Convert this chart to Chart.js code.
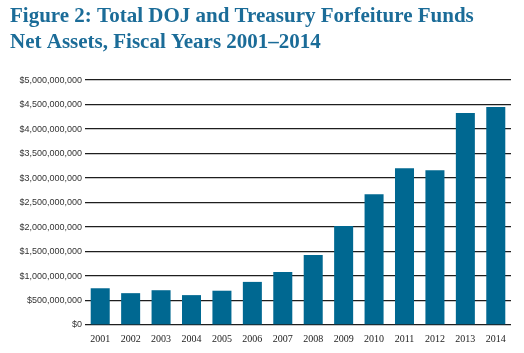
<!DOCTYPE html>
<html>
<head>
<meta charset="utf-8">
<script src="https://cdn.jsdelivr.net/npm/chart.js"></script>
<style>
  body { margin: 0; background: #fff; }
</style>
</head>
<body>
<canvas id="grafico" width="524" height="353"></canvas>
<script>
  // dados do gráfico
  var anos = ['2001', '2002', '2003', '2004', '2005', '2006', '2007',
              '2008', '2009', '2010', '2011', '2012', '2013', '2014'];
  var ativos = [750000000, 650000000, 710000000, 610000000, 700000000, 880000000, 1080000000,
                1430000000, 2020000000, 2670000000, 3200000000, 3160000000, 4330000000, 4450000000];
  var titulo = ['Figure 2: Total DOJ and Treasury Forfeiture Funds',
                'Net Assets, Fiscal Years 2001\u20132014'];

  var ctx = document.getElementById('grafico').getContext('2d');
  var grafico = new Chart(ctx, {
    type: 'bar',
    data: {
      labels: anos,
      datasets: [{
        data: ativos,
        backgroundColor: '#006891',
        categoryPercentage: 1,
        barPercentage: 0.625
      }]
    },
    options: {
      responsive: false,
      animation: false,
      layout: { padding: { left: 10, right: 13, top: 4, bottom: 0 } },
      plugins: {
        legend: { display: false },
        tooltip: { enabled: false },
        title: {
          display: true,
          text: titulo,
          align: 'start',
          color: '#1b6c98',
          font: { family: 'Liberation Serif', size: 21, weight: 'bold', lineHeight: 1.24 },
          padding: { top: 0, bottom: 24 }
        }
      },
      scales: {
        x: {
          grid: { display: false, drawTicks: false },
          border: { display: false },
          ticks: {
            color: '#222',
            padding: 8,
            font: { family: 'Liberation Serif', size: 10 }
          }
        },
        y: {
          min: 0,
          max: 5000000000,
          afterFit: function (escala) { escala.width = 75; },
          grid: { color: '#1e1e1e', lineWidth: 1.3, drawTicks: false },
          border: { display: false },
          ticks: {
            stepSize: 500000000,
            color: '#333',
            padding: 3,
            font: { family: 'Liberation Sans', size: 9 },
            callback: function (v) { return '$' + v.toLocaleString('en-US'); }
          }
        }
      }
    }
  });
</script>
</body>
</html>
